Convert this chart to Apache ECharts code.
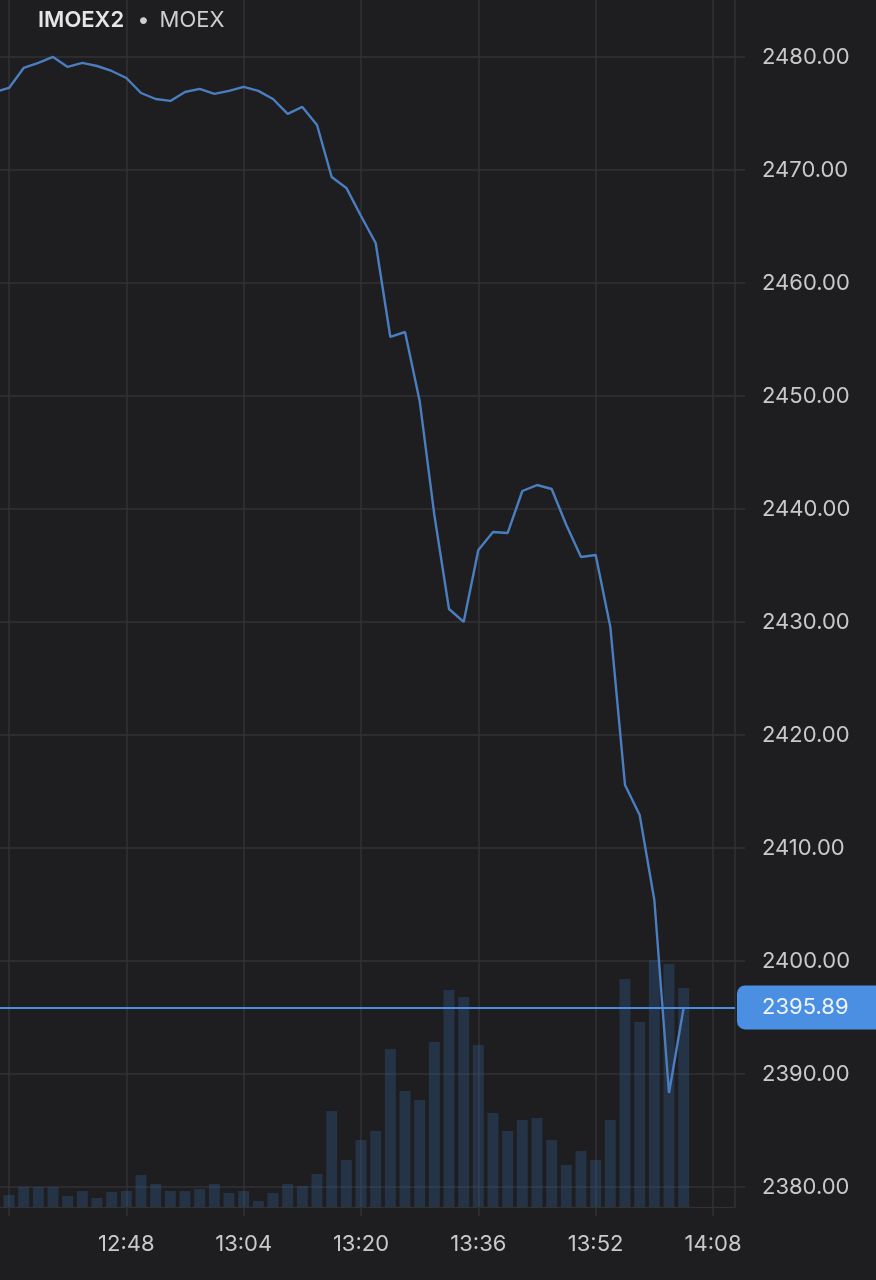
<!DOCTYPE html>
<html>
<head>
<meta charset="utf-8">
<script src="https://cdn.jsdelivr.net/npm/echarts@6.0.0/dist/echarts.min.js"></script>
<style>
html,body{margin:0;padding:0;background:#1e1e20;}
#chart{width:876px;height:1280px;}
</style>
</head>
<body>
<div id="chart"></div>
<script>
// Times (2-minute steps)
const times = ['12:30','12:32','12:34','12:36','12:38','12:40','12:42','12:44','12:46','12:48',
  '12:50','12:52','12:54','12:56','12:58','13:00','13:02','13:04','13:06','13:08',
  '13:10','13:12','13:14','13:16','13:18','13:20','13:22','13:24','13:26','13:28',
  '13:30','13:32','13:34','13:36','13:38','13:40','13:42','13:44','13:46','13:48',
  '13:50','13:52','13:54','13:56','13:58','14:00','14:02','14:04'];
// IMOEX2 price
const prices = [2476.90,2477.26,2479.03,2479.47,2480.00,2479.12,2479.47,2479.20,2478.76,2478.14,
  2476.81,2476.28,2476.11,2476.90,2477.17,2476.73,2477.00,2477.35,2477.00,2476.28,
  2474.96,2475.58,2473.98,2469.38,2468.41,2465.93,2463.54,2455.22,2455.66,2449.56,
  2439.47,2431.15,2430.00,2436.37,2437.96,2437.88,2441.59,2442.12,2441.77,2438.58,
  2435.75,2435.93,2429.56,2415.58,2412.92,2405.40,2388.32,2395.89];
// Volume (relative units)
const volumes = [null,12,20,20,20,11,16,9,15,16,
  32,23,16,16,18,23,14,16,6,14,
  23,21,33,96,47,67,76,158,116,107,
  165,217,210,162,94,76,87,89,67,42,
  56,47,87,228,185,247,243,219];
const lastPrice = 2395.89;
const priceTicks = [2380,2390,2400,2410,2420,2430,2440,2450,2460,2470,2480];
const timeTicks = ['12:32','12:48','13:04','13:20','13:36','13:52','14:08'];
const timeLabels = ['12:48','13:04','13:20','13:36','13:52','14:08'];

const toMin = s => { const p = s.split(':'); return (+p[0]) * 60 + (+p[1]); };
const fromMin = m => { const h = Math.floor(m / 60), mm = Math.round(m - h * 60); return h + ':' + (mm < 10 ? '0' : '') + mm; };

const GRID = '#323235';
const LABEL = '#c9c9cb';
const FONT = 'Inter, "Noto Sans", sans-serif';

const chart = echarts.init(document.getElementById('chart'), null, {renderer: 'canvas'});
chart.setOption({
  backgroundColor: '#1e1e20',
  animation: false,
  title: {
    left: 33, top: 4,
    text: '{b|IMOEX2}{s1|}{n|•}{s2|}{n|MOEX}',
    textStyle: {
      rich: {
        b: {fontFamily: FONT, fontSize: 22, fontWeight: 600, color: '#e6e6e8'},
        n: {fontFamily: FONT, fontSize: 22, fontWeight: 400, color: '#cfcfd1'},
        s1: {width: 13},
        s2: {width: 10}
      }
    }
  },
  grid: {left: 0, right: 141, top: 0, bottom: 73},
  xAxis: {
    type: 'value',
    min: 750.77, max: 851.0,
    axisLine: {show: true, lineStyle: {color: GRID, width: 1}},
    axisTick: {show: true, length: 9, lineStyle: {color: GRID, width: 1.5}, customValues: timeTicks.map(toMin)},
    splitLine: {show: true, lineStyle: {color: GRID, width: 1.5}},
    axisLabel: {
      customValues: timeLabels.map(toMin),
      formatter: v => fromMin(v),
      color: LABEL, fontFamily: FONT, fontSize: 22, margin: 26
    }
  },
  yAxis: [{
    type: 'value', position: 'right',
    min: 2378.23, max: 2485.04,
    axisLine: {show: true, lineStyle: {color: GRID, width: 1.5}},
    axisTick: {show: true, inside: false, length: 10, lineStyle: {color: GRID, width: 1.5}, customValues: priceTicks},
    splitLine: {show: true, lineStyle: {color: GRID, width: 1.5}},
    axisLabel: {
      customValues: priceTicks,
      formatter: v => v.toFixed(2),
      color: LABEL, fontFamily: FONT, fontSize: 22, margin: 27
    }
  }, {
    type: 'value', min: 0, max: 1207, show: false
  }],
  series: [{
    type: 'bar', yAxisIndex: 1, barWidth: 11, z: 1,
    itemStyle: {color: 'rgba(50,95,150,0.33)'},
    data: times.map((t, i) => [toMin(t), volumes[i]])
  }, {
    type: 'line', yAxisIndex: 0, z: 3,
    symbol: 'none',
    lineStyle: {color: '#4a7ec0', width: 2.4},
    data: times.map((t, i) => [toMin(t), prices[i]]),
    markLine: {
      silent: true, symbol: 'none',
      lineStyle: {color: '#4a8de0', width: 2.2, type: 'solid'},
      label: {
        show: true, position: 'end', distance: 2,
        formatter: () => lastPrice.toFixed(2),
        backgroundColor: '#4a8fe2', color: '#eef4ff',
        fontFamily: FONT, fontSize: 22,
        padding: [11, 40, 11, 25], borderRadius: 8
      },
      data: [{yAxis: lastPrice}]
    }
  }]
});
</script>
</body>
</html>
